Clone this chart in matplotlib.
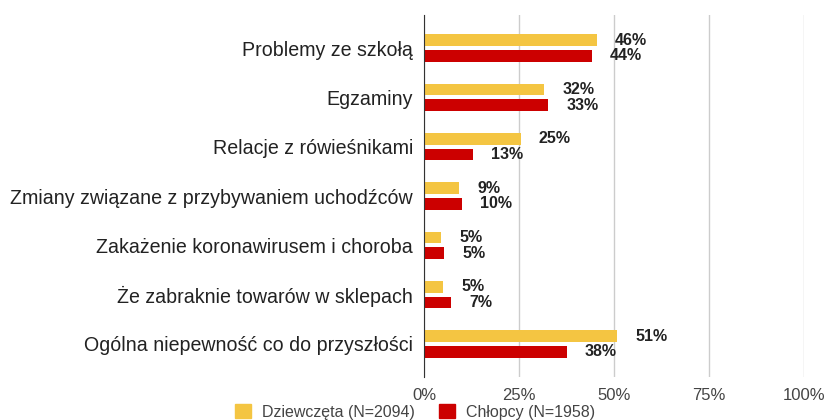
import matplotlib.pyplot as plt
from matplotlib.patches import Patch
import numpy as np

plt.rcParams['font.family'] = ['Liberation Sans', 'DejaVu Sans']

categories = ['Problemy ze szkołą',
              'Egzaminy',
              'Relacje z rówieśnikami',
              'Zmiany związane z przybywaniem uchodźców',
              'Zakażenie koronawirusem i choroba',
              'Że zabraknie towarów w sklepach',
              'Ogólna niepewność co do przyszłości']

girls = [45.5, 31.6, 25.4, 9.2, 4.6, 5.0, 50.9]
boys = [44.2, 32.7, 13.0, 9.9, 5.3, 7.2, 37.6]
girls_labels = ['46%', '32%', '25%', '9%', '5%', '5%', '51%']
boys_labels = ['44%', '33%', '13%', '10%', '5%', '7%', '38%']

series_names = ['Dziewczęta (N=2094)', 'Chłopcy (N=1958)']
colors = ['#f4c542', '#cc0000']

fig = plt.figure(figsize=(8.24, 4.2), dpi=100)
ax = fig.add_axes([424 / 824, 1 - 377 / 420, 380 / 824, 362 / 420])

y = np.arange(len(categories))
h = 0.24
off = 0.16

b1 = ax.barh(y - off, girls, height=h, color=colors[0], zorder=3)
b2 = ax.barh(y + off, boys, height=h, color=colors[1], zorder=3)

for bars, labels in [(b1, girls_labels), (b2, boys_labels)]:
    for bar, lab in zip(bars, labels):
        ax.annotate(lab, (bar.get_width(), bar.get_y() + bar.get_height() / 2),
                    xytext=(13, 0), textcoords='offset points',
                    ha='left', va='center', fontsize=11.5, fontweight='bold',
                    color='#222222')

ax.set_xlim(0, 100)
ax.set_ylim(6.67, -0.67)
ax.set_yticks(y)
ax.set_yticklabels(categories, fontsize=14.1, color='#222222')
ax.set_xticks([0, 25, 50, 75, 100])
ax.set_xticklabels(['0%', '25%', '50%', '75%', '100%'], fontsize=12, color='#444444')
ax.tick_params(axis='both', length=0)
ax.tick_params(axis='y', pad=8)
ax.tick_params(axis='x', pad=8)
ax.grid(axis='x', color='#cccccc', linewidth=1, zorder=0)
for s in ['top', 'right', 'bottom']:
    ax.spines[s].set_visible(False)
ax.spines['left'].set_color('#333333')
ax.spines['left'].set_zorder(4)

handles = [Patch(color=c) for c in colors]
fig.legend(handles, series_names, loc='upper left',
           bbox_to_anchor=(235 / 824, 1 - 404 / 420), frameon=False, ncol=2,
           fontsize=11.5, handlelength=1.0, handleheight=1.0, handletextpad=0.7,
           columnspacing=1.5, borderpad=0, borderaxespad=0, labelcolor='#444444')

fig.savefig('out.png', dpi=100)
